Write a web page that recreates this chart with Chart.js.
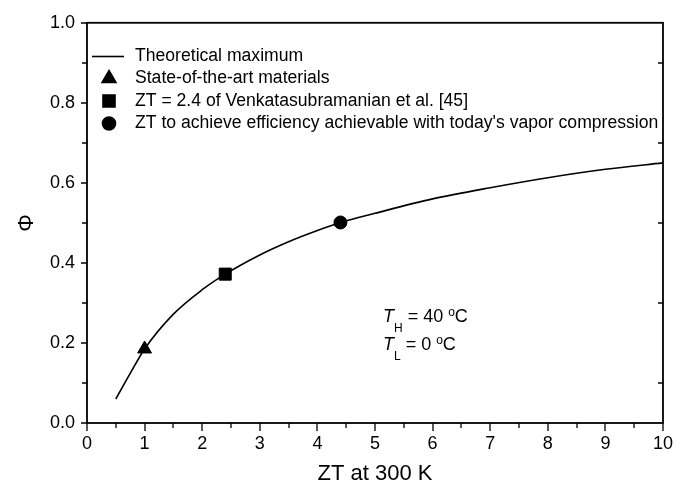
<!DOCTYPE html>
<html>
<head>
<meta charset="utf-8">
<script src="https://cdn.jsdelivr.net/npm/chart.js@4.4.0/dist/chart.umd.min.js"></script>
<style>
    html, body { margin: 0; padding: 0; background: #fff; }
</style>
</head>
<body>
<canvas id="phiChart" width="686" height="483"></canvas>
<script>
// Theoretical maximum curve
const ztValues = [0.5, 0.75, 1, 1.5, 2, 2.4, 3, 3.5, 4, 4.4, 5, 6, 7, 8, 9, 10];
const phiValues = [0.06, 0.124, 0.185, 0.272, 0.333, 0.372, 0.420, 0.453, 0.481, 0.501, 0.524, 0.560, 0.588, 0.613, 0.634, 0.650];

// Marked points
const markerZT = [1, 2.4, 4.4];
const markerPhi = [0.185, 0.372, 0.501];
const markerStyles = ['triangle', 'rect', 'circle'];
const markerRadius = [8, 8.5, 6.5];

const legendLabels = [
    'Theoretical maximum',
    'State-of-the-art materials',
    'ZT = 2.4 of Venkatasubramanian et al. [45]',
    "ZT to achieve efficiency achievable with today's vapor compression"
];

const xTicks = [0, 1, 2, 3, 4, 5, 6, 7, 8, 9, 10];
const yTicks = [0, 0.2, 0.4, 0.6, 0.8, 1.0];

const FONT = 'Arial, "Liberation Sans", sans-serif';

// Frame, tick marks, legend and the temperature note
const framePlugin = {
    id: 'frame',
    afterDraw(chart) {
        const ctx = chart.ctx;
        const a = chart.chartArea;
        const xs = chart.scales.x;
        const ys = chart.scales.y;
        ctx.save();
        ctx.strokeStyle = '#000';
        ctx.fillStyle = '#000';

        // box
        ctx.lineWidth = 1.8;
        ctx.strokeRect(a.left, a.top, a.right - a.left, a.bottom - a.top);

        // tick marks
        ctx.lineWidth = 1.3;
        ctx.beginPath();
        for (let i = 0; i <= 20; i++) {
            const px = Math.round(xs.getPixelForValue(i / 2));
            const len = i % 2 === 0 ? 8 : 5;
            ctx.moveTo(px, a.bottom);
            ctx.lineTo(px, a.bottom + len);
        }
        for (let i = 0; i <= 10; i++) {
            const py = Math.round(ys.getPixelForValue(i / 10));
            ctx.moveTo(a.left, py);
            ctx.lineTo(a.left - (i % 2 === 0 ? 6 : 5), py);
            if (i % 2 === 1) {
                ctx.moveTo(a.right, py);
                ctx.lineTo(a.right - 5, py);
            }
        }
        ctx.stroke();

        // legend
        const lx = 109;
        const textX = 135;
        const rowY = [56, 78.5, 101, 123.5];
        ctx.font = '17.6px ' + FONT;
        ctx.textBaseline = 'middle';
        ctx.textAlign = 'left';
        ctx.lineWidth = 1.6;
        ctx.beginPath();
        ctx.moveTo(92, rowY[0] + 0.5);
        ctx.lineTo(124, rowY[0] + 0.5);
        ctx.stroke();
        for (let i = 0; i < markerStyles.length; i++) {
            Chart.helpers.drawPoint(ctx, {
                pointStyle: markerStyles[i],
                radius: markerRadius[i],
                borderWidth: 1,
                rotation: 0
            }, lx, rowY[i + 1]);
        }
        legendLabels.forEach((label, i) => ctx.fillText(label, textX, rowY[i]));

        // temperature note
        ctx.textBaseline = 'alphabetic';
        const notes = [['H', ' = 40 ', 322], ['L', ' = 0 ', 350]];
        notes.forEach(([sub, mid, base]) => {
            let x = 383;
            ctx.font = 'italic 18px ' + FONT;
            ctx.fillText('T', x, base);
            x += ctx.measureText('T').width;
            ctx.font = '12px ' + FONT;
            ctx.fillText(sub, x, base + 10);
            x += ctx.measureText(sub).width;
            ctx.font = '18px ' + FONT;
            ctx.fillText(mid, x, base);
            x += ctx.measureText(mid).width;
            ctx.font = '12px ' + FONT;
            ctx.fillText('o', x, base - 6);
            x += ctx.measureText('o').width;
            ctx.font = '18px ' + FONT;
            ctx.fillText('C', x, base);
        });

        ctx.restore();
    }
};

const curveData = ztValues.map((zt, i) => ({ x: zt, y: phiValues[i] }));

const markerSets = markerZT.map((zt, i) => ({
    label: legendLabels[i + 1],
    data: [{ x: zt, y: markerPhi[i] }],
    showLine: false,
    pointStyle: markerStyles[i],
    pointRadius: markerRadius[i],
    pointBackgroundColor: '#000',
    pointBorderColor: '#000',
    pointBorderWidth: 1
}));

new Chart(document.getElementById('phiChart').getContext('2d'), {
    type: 'line',
    data: {
        datasets: [
            {
                label: legendLabels[0],
                data: curveData,
                borderColor: '#000',
                borderWidth: 1.6,
                pointRadius: 0,
                fill: false,
                cubicInterpolationMode: 'monotone'
            },
            ...markerSets
        ]
    },
    options: {
        responsive: false,
        animation: false,
        devicePixelRatio: 1,
        layout: { padding: { left: 14, top: 20, right: 23, bottom: 0 } },
        plugins: {
            legend: { display: false },
            tooltip: { enabled: false }
        },
        scales: {
            x: {
                type: 'linear',
                min: 0,
                max: 10,
                afterBuildTicks: axis => { axis.ticks = xTicks.map(v => ({ value: v })); },
                afterFit: axis => { axis.height = 60; },
                grid: { display: false, drawTicks: false },
                border: { display: false },
                ticks: {
                    color: '#000',
                    padding: 10,
                    maxRotation: 0,
                    font: { size: 18, family: FONT }
                },
                title: {
                    display: true,
                    text: 'ZT at 300 K',
                    color: '#000',
                    padding: { top: 0, bottom: -4 },
                    font: { size: 22, family: FONT }
                }
            },
            y: {
                min: 0,
                max: 1,
                afterBuildTicks: axis => { axis.ticks = yTicks.map(v => ({ value: v })); },
                afterFit: axis => { axis.width = 73; },
                grid: { display: false, drawTicks: false },
                border: { display: false },
                ticks: {
                    color: '#000',
                    padding: 12,
                    font: { size: 18, family: FONT },
                    callback: v => v.toFixed(1)
                },
                title: {
                    display: true,
                    text: 'Φ',
                    color: '#000',
                    padding: { top: 0, bottom: 0 },
                    font: { size: 22, family: FONT }
                }
            }
        }
    },
    plugins: [framePlugin]
});
</script>
</body>
</html>
